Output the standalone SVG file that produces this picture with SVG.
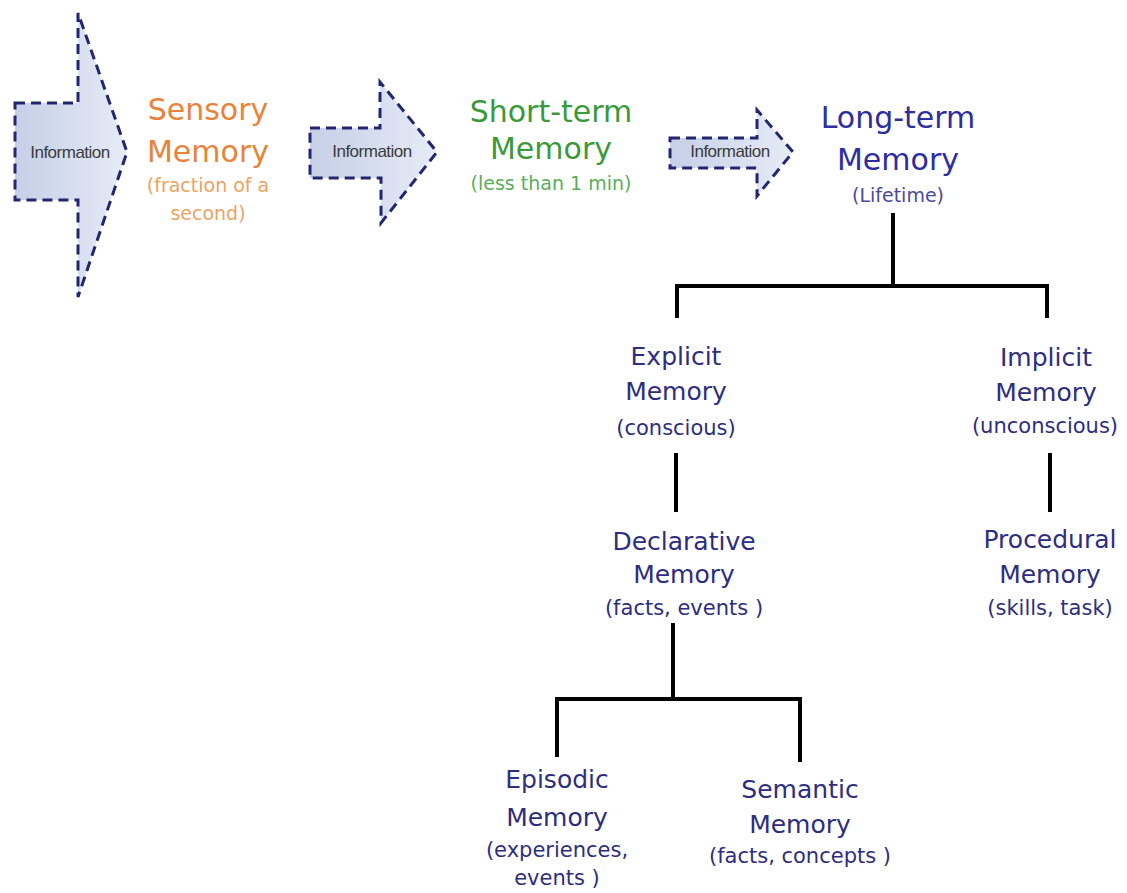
<svg xmlns="http://www.w3.org/2000/svg" width="1127" height="893" viewBox="0 0 1127 893">
<defs>
<linearGradient id="arrowFill" x1="0" y1="0" x2="1" y2="0">
<stop offset="0" stop-color="#c6cfe7"/>
<stop offset="1" stop-color="#e6ebf6"/>
</linearGradient>
<style>
text{font-family:"DejaVu Sans",Verdana,sans-serif;text-anchor:middle}
.arrow{fill:url(#arrowFill);stroke:#23266e;stroke-width:3;stroke-dasharray:10 6;stroke-linejoin:miter}
.info{font-family:"Liberation Sans",Arial,sans-serif;font-size:17px;fill:#3a3a3a;letter-spacing:-0.5px}
.big{font-size:30px}
.sub{font-size:19px}
.t{font-size:25px;fill:#2e2e80}
.ts{font-size:21px;fill:#2e2e80}
.orange{fill:#e8843a}
.orangeS{fill:#eea262}
.green{fill:#3a9a3a}
.greenS{fill:#5aae5a}
.blue{fill:#2e2ea2}
.blueS{fill:#4a4a9a}
.conn{fill:none;stroke:#000;stroke-width:4}
</style>
</defs>
<rect width="1127" height="893" fill="#fff"/>
<g id="arrow1">
<polygon class="arrow" points="15,103 78,103 78,13 127,152 78,297 78,200 15,200"/>
<text class="info" x="70" y="158">Information</text>
</g>
<g id="sensory">
<text class="big orange" x="208" y="120">Sensory</text>
<text class="big orange" x="208" y="162">Memory</text>
<text class="sub orangeS" x="208" y="192">(fraction of a</text>
<text class="sub orangeS" x="208" y="220">second)</text>
</g>
<g id="arrow2">
<polygon class="arrow" points="310,128 380,128 380,82 437,152 381,223 381,178 310,178"/>
<text class="info" x="372" y="157">Information</text>
</g>
<g id="shortterm">
<text class="big green" x="551" y="122">Short-term</text>
<text class="big green" x="551" y="159">Memory</text>
<text class="sub greenS" x="551" y="190">(less than 1 min)</text>
</g>
<g id="arrow3">
<polygon class="arrow" points="670,138 757,138 757,110 793,152 757,196 757,168 670,168"/>
<text class="info" x="730" y="157">Information</text>
</g>
<g id="longterm">
<text class="big blue" x="898" y="128">Long-term</text>
<text class="big blue" x="898" y="170">Memory</text>
<text class="sub blueS" x="898" y="202">(Lifetime)</text>
</g>
<g id="connectors">
<path class="conn" d="M893,213 V286"/>
<path class="conn" d="M677,318 V286 H1047 V318"/>
<path class="conn" d="M676,453 V512"/>
<path class="conn" d="M1050,453 V512"/>
<path class="conn" d="M673,623 V699"/>
<path class="conn" d="M557,757 V699 H800 V762"/>
</g>
<g id="explicit">
<text class="t" x="676" y="365">Explicit</text>
<text class="t" x="676" y="400">Memory</text>
<text class="ts" x="676" y="435">(conscious)</text>
</g>
<g id="implicit">
<text class="t" x="1046" y="366">Implicit</text>
<text class="t" x="1046" y="401">Memory</text>
<text class="ts" x="1045" y="433">(unconscious)</text>
</g>
<g id="declarative">
<text class="t" x="684" y="550">Declarative</text>
<text class="t" x="684" y="583">Memory</text>
<text class="ts" x="684" y="615">(facts, events )</text>
</g>
<g id="procedural">
<text class="t" x="1050" y="548">Procedural</text>
<text class="t" x="1050" y="583">Memory</text>
<text class="ts" x="1050" y="615">(skills, task)</text>
</g>
<g id="episodic">
<text class="t" x="557" y="788">Episodic</text>
<text class="t" x="557" y="826">Memory</text>
<text class="ts" x="557" y="857">(experiences,</text>
<text class="ts" x="557" y="885">events )</text>
</g>
<g id="semantic">
<text class="t" x="800" y="798">Semantic</text>
<text class="t" x="800" y="833">Memory</text>
<text class="ts" x="800" y="863">(facts, concepts )</text>
</g>
</svg>
